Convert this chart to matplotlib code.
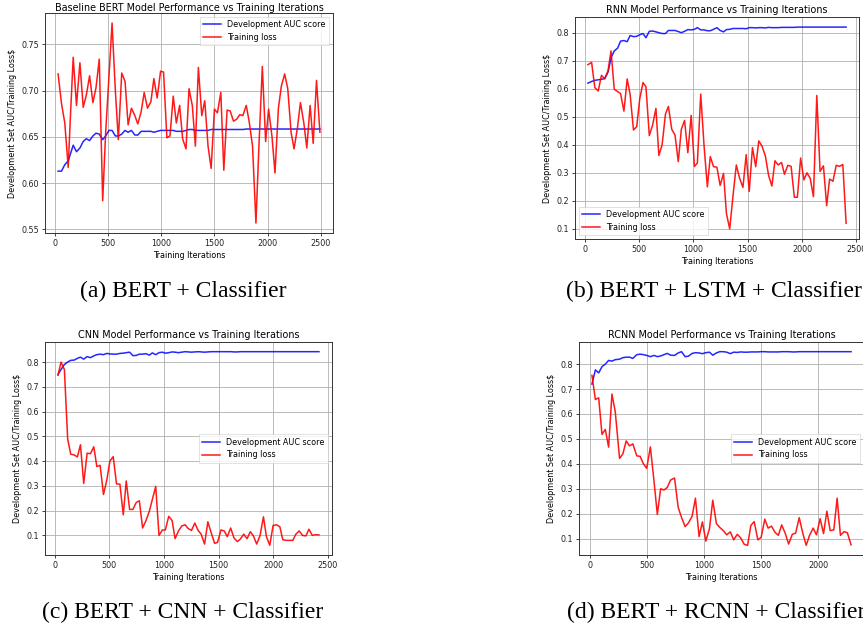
import matplotlib
matplotlib.use("Agg")
import matplotlib.pyplot as plt

# ---------------- data ----------------
# (a) Baseline BERT
a_iter = [31, 63, 94, 126, 148, 173, 204, 236, 267, 296, 327, 358, 387, 418, 450, 478, 509, 538,
          569, 597, 629, 660, 689, 720, 752, 780, 811, 840, 871, 903, 931, 962, 994, 1022, 1053,
          1082, 1113, 1142, 1173, 1201, 1233, 1261, 1292, 1321, 1349, 1381, 1409, 1440, 1469,
          1500, 1528, 1560, 1588, 1619, 1648, 1679, 1708, 1739, 1767, 1799, 1827, 1858, 1890,
          1918, 1950, 1981, 2009, 2041, 2069, 2101, 2129, 2160, 2189, 2220, 2248, 2280, 2308,
          2340, 2368, 2399, 2428, 2459, 2491]
a_loss = [0.718, 0.686, 0.665, 0.617, 0.675, 0.736, 0.684, 0.730, 0.682, 0.695, 0.716, 0.687,
          0.703, 0.734, 0.581, 0.655, 0.715, 0.773, 0.700, 0.647, 0.719, 0.710, 0.663, 0.681,
          0.673, 0.664, 0.677, 0.698, 0.681, 0.688, 0.713, 0.692, 0.721, 0.720, 0.649, 0.651,
          0.694, 0.665, 0.684, 0.648, 0.637, 0.702, 0.684, 0.640, 0.725, 0.673, 0.689, 0.640,
          0.616, 0.680, 0.676, 0.698, 0.614, 0.679, 0.678, 0.667, 0.669, 0.674, 0.673, 0.684,
          0.666, 0.640, 0.557, 0.640, 0.726, 0.645, 0.680, 0.650, 0.611, 0.681, 0.705, 0.718,
          0.702, 0.655, 0.637, 0.660, 0.687, 0.665, 0.638, 0.684, 0.643, 0.711, 0.655]
a_auc = [0.613, 0.613, 0.620, 0.624, 0.632, 0.641, 0.634, 0.638, 0.645, 0.648, 0.646, 0.651,
         0.654, 0.653, 0.647, 0.651, 0.657, 0.657, 0.651, 0.651, 0.653, 0.657, 0.655, 0.657,
         0.652, 0.652, 0.656, 0.656, 0.656, 0.656, 0.655, 0.656, 0.657, 0.657, 0.657, 0.657,
         0.657, 0.656, 0.656, 0.656, 0.657, 0.658, 0.658, 0.657, 0.657, 0.657, 0.657, 0.657,
         0.658, 0.658, 0.658, 0.658, 0.658, 0.658, 0.658, 0.658, 0.658, 0.658, 0.658, 0.6585,
         0.6585, 0.6585, 0.6585, 0.6585, 0.6585, 0.6585, 0.6585, 0.6585, 0.6585, 0.6585,
         0.6585, 0.6585, 0.6585, 0.6585, 0.6585, 0.6585, 0.6585, 0.6585, 0.6585, 0.6585,
         0.6585, 0.6585, 0.6585]

# (b) RNN
b_iter = [27, 61, 91, 122, 152, 182, 213, 240, 270, 301, 328, 359, 389, 416, 447, 477, 505, 535,
          562, 593, 623, 654, 681, 711, 742, 769, 800, 830, 860, 888, 918, 948, 979, 1009, 1036,
          1067, 1097, 1128, 1155, 1185, 1216, 1246, 1277, 1304, 1334, 1365, 1395, 1426, 1456,
          1486, 1514, 1544, 1574, 1602, 1632, 1663, 1693, 1723, 1751, 1781, 1812, 1839, 1870,
          1900, 1930, 1958, 1988, 2018, 2046, 2076, 2106, 2137, 2167, 2198, 2228, 2255, 2286,
          2316, 2346, 2377, 2407]
b_loss = [0.686, 0.694, 0.604, 0.592, 0.648, 0.636, 0.665, 0.735, 0.598, 0.590, 0.583, 0.520,
          0.635, 0.580, 0.453, 0.465, 0.565, 0.622, 0.607, 0.433, 0.470, 0.530, 0.362, 0.400,
          0.510, 0.537, 0.455, 0.435, 0.340, 0.455, 0.487, 0.372, 0.505, 0.323, 0.335, 0.581,
          0.400, 0.250, 0.358, 0.322, 0.320, 0.255, 0.298, 0.155, 0.100, 0.220, 0.328, 0.280,
          0.248, 0.365, 0.234, 0.390, 0.322, 0.414, 0.395, 0.360, 0.290, 0.253, 0.343, 0.328,
          0.337, 0.295, 0.327, 0.323, 0.213, 0.213, 0.353, 0.275, 0.300, 0.281, 0.215, 0.576,
          0.305, 0.325, 0.183, 0.278, 0.270, 0.327, 0.323, 0.330, 0.120]
b_auc = [0.620, 0.626, 0.630, 0.632, 0.634, 0.636, 0.660, 0.710, 0.735, 0.745, 0.770, 0.772,
         0.768, 0.790, 0.786, 0.787, 0.793, 0.797, 0.782, 0.805, 0.806, 0.803, 0.800, 0.797,
         0.797, 0.808, 0.808, 0.808, 0.804, 0.800, 0.805, 0.811, 0.810, 0.812, 0.818, 0.810,
         0.810, 0.807, 0.807, 0.812, 0.818, 0.808, 0.803, 0.811, 0.812, 0.815, 0.815, 0.815,
         0.815, 0.814, 0.818, 0.818, 0.817, 0.818, 0.818, 0.817, 0.819, 0.818, 0.818, 0.818,
         0.819, 0.819, 0.819, 0.819, 0.819, 0.820, 0.820, 0.820, 0.820, 0.820, 0.820, 0.820,
         0.820, 0.820, 0.820, 0.820, 0.820, 0.820, 0.820, 0.820, 0.820]

# (c) CNN
c_iter = [31, 58, 89, 119, 147, 178, 208, 236, 266, 297, 328, 358, 386, 416, 447, 478, 505, 536,
          566, 597, 628, 655, 686, 716, 747, 775, 805, 836, 866, 894, 925, 955, 986, 1013, 1044,
          1075, 1102, 1133, 1163, 1194, 1222, 1252, 1283, 1313, 1341, 1372, 1402, 1433, 1464,
          1491, 1522, 1552, 1580, 1611, 1641, 1672, 1699, 1730, 1761, 1791, 1819, 1849, 1880,
          1911, 1938, 1969, 1999, 2030, 2061, 2088, 2119, 2149, 2180, 2208, 2238, 2269, 2300,
          2327, 2358, 2388, 2419]
c_loss = [0.747, 0.800, 0.770, 0.490, 0.428, 0.425, 0.417, 0.466, 0.310, 0.432, 0.430, 0.458,
          0.378, 0.383, 0.265, 0.325, 0.400, 0.418, 0.308, 0.307, 0.183, 0.320, 0.205, 0.205,
          0.233, 0.240, 0.130, 0.160, 0.197, 0.245, 0.298, 0.100, 0.122, 0.122, 0.177, 0.160,
          0.087, 0.118, 0.138, 0.143, 0.128, 0.120, 0.150, 0.120, 0.105, 0.065, 0.155, 0.110,
          0.068, 0.072, 0.122, 0.118, 0.095, 0.130, 0.090, 0.075, 0.085, 0.105, 0.087, 0.115,
          0.098, 0.065, 0.100, 0.175, 0.095, 0.060, 0.140, 0.143, 0.135, 0.083, 0.080, 0.080,
          0.080, 0.105, 0.118, 0.100, 0.098, 0.125, 0.100, 0.103, 0.102]
c_auc = [0.750, 0.770, 0.790, 0.800, 0.807, 0.808, 0.815, 0.820, 0.812, 0.822, 0.818, 0.825,
         0.830, 0.832, 0.830, 0.835, 0.833, 0.832, 0.832, 0.835, 0.836, 0.838, 0.840, 0.826,
         0.827, 0.832, 0.832, 0.834, 0.828, 0.837, 0.830, 0.838, 0.840, 0.836, 0.838, 0.841,
         0.840, 0.838, 0.840, 0.842, 0.841, 0.840, 0.841, 0.842, 0.841, 0.840, 0.841, 0.842,
         0.842, 0.842, 0.842, 0.842, 0.842, 0.842, 0.841, 0.841, 0.842, 0.842, 0.842, 0.842,
         0.842, 0.842, 0.842, 0.842, 0.842, 0.842, 0.842, 0.842, 0.842, 0.842, 0.842, 0.842,
         0.842, 0.842, 0.842, 0.842, 0.842, 0.842, 0.842, 0.842, 0.842]

# (d) RCNN
d_iter = [17, 47, 76, 105, 134, 163, 192, 221, 259, 288, 317, 346, 375, 410, 439, 468, 497, 529,
          561, 590, 619, 648, 677, 706, 741, 773, 802, 834, 863, 895, 924, 956, 985, 1015, 1047,
          1076, 1108, 1137, 1169, 1198, 1230, 1259, 1291, 1320, 1352, 1381, 1410, 1439, 1471,
          1500, 1532, 1561, 1590, 1622, 1651, 1680, 1712, 1741, 1773, 1802, 1834, 1863, 1895,
          1924, 1956, 1985, 2017, 2047, 2076, 2105, 2137, 2166, 2195, 2227, 2256, 2288]
d_loss = [0.755, 0.658, 0.665, 0.518, 0.538, 0.467, 0.680, 0.610, 0.422, 0.440, 0.492, 0.472,
          0.480, 0.432, 0.430, 0.400, 0.382, 0.468, 0.330, 0.197, 0.300, 0.295, 0.305, 0.335,
          0.343, 0.225, 0.185, 0.148, 0.163, 0.190, 0.262, 0.108, 0.167, 0.090, 0.140, 0.254,
          0.160, 0.145, 0.132, 0.115, 0.127, 0.095, 0.117, 0.103, 0.077, 0.073, 0.153, 0.168,
          0.095, 0.105, 0.178, 0.142, 0.150, 0.125, 0.113, 0.155, 0.120, 0.078, 0.117, 0.122,
          0.184, 0.125, 0.073, 0.113, 0.142, 0.115, 0.180, 0.120, 0.210, 0.132, 0.135, 0.262,
          0.113, 0.128, 0.123, 0.075]
d_auc = [0.720, 0.777, 0.765, 0.790, 0.800, 0.815, 0.812, 0.818, 0.820, 0.826, 0.828, 0.828,
         0.823, 0.838, 0.840, 0.838, 0.835, 0.830, 0.835, 0.830, 0.833, 0.838, 0.843, 0.836,
         0.835, 0.845, 0.850, 0.830, 0.832, 0.843, 0.846, 0.845, 0.842, 0.846, 0.848, 0.836,
         0.845, 0.850, 0.850, 0.848, 0.842, 0.848, 0.847, 0.849, 0.848, 0.848, 0.849, 0.849,
         0.849, 0.850, 0.850, 0.849, 0.849, 0.849, 0.849, 0.850, 0.850, 0.850, 0.849, 0.849,
         0.850, 0.850, 0.850, 0.850, 0.850, 0.850, 0.850, 0.850, 0.850, 0.850, 0.850, 0.850,
         0.850, 0.850, 0.850, 0.850]

titles = ["Baseline BERT Model Performance vs Training Iterations",
          "RNN Model Performance vs Training Iterations",
          "CNN Model Performance vs Training Iterations",
          "RCNN Model Performance vs Training Iterations"]
captions = ["(a) BERT + Classifier", "(b) BERT + LSTM + Classifier",
            "(c) BERT + CNN + Classifier", "(d) BERT + RCNN + Classifier"]
legend_locs = ["upper right", "lower left", "center right", "center right"]
auc_label = "Development AUC score"
loss_label = "Training loss"
xlabel = "Training Iterations"
ylabel = "Development Set AUC/Training Loss\\$"

# ---------------- layout ----------------
W, H = 863, 628
fig = plt.figure(figsize=(W / 100, H / 100), dpi=100)
fig.patch.set_facecolor("white")

# axes rectangles in pixels: left, top, right, bottom
rects = [(45, 13, 333, 233), (575, 17, 859, 239), (45, 342, 332, 555), (579, 342, 864, 555)]
title_pads = [0.5, 3, 3, 3]
caption_pos = [(183, 291), (714, 291), (183, 612), (716, 612)]

data = [(a_iter, a_auc, a_loss), (b_iter, b_auc, b_loss),
        (c_iter, c_auc, c_loss), (d_iter, d_auc, d_loss)]

fs = 5.75
for i, ((l, t, r, b), (xs, auc, loss)) in enumerate(zip(rects, data)):
    ax = fig.add_axes([l / W, 1 - b / H, (r - l) / W, (b - t) / H])
    ax.plot(xs, auc, color="blue", lw=1.1, label=auc_label, alpha=0.85)
    ax.plot(xs, loss, color="red", lw=1.1, label=loss_label, alpha=0.9)
    ax.grid(True, color="#b0b0b0", lw=0.6)
    ax.set_axisbelow(True)
    ax.set_title(titles[i], fontsize=6.9, pad=title_pads[i])
    ax.set_xlabel(xlabel, fontsize=fs, labelpad=2)
    ax.set_ylabel(ylabel, fontsize=fs, labelpad=3)
    ax.tick_params(labelsize=fs, length=2.5, width=0.6, pad=2, colors="#222222")
    for s in ax.spines.values():
        s.set_linewidth(0.7)
        s.set_color("#333333")
    leg = ax.legend(loc=legend_locs[i], fontsize=fs, frameon=True, fancybox=False,
                    handlelength=2.2)
    leg.get_frame().set_linewidth(0.5)
    leg.get_frame().set_edgecolor("#cccccc")
    cx, cy = caption_pos[i]
    fig.text(cx / W, 1 - cy / H, captions[i], ha="center", va="center",
             fontsize=17, family="Liberation Serif")

fig.savefig("out.png", dpi=100, facecolor="white")
